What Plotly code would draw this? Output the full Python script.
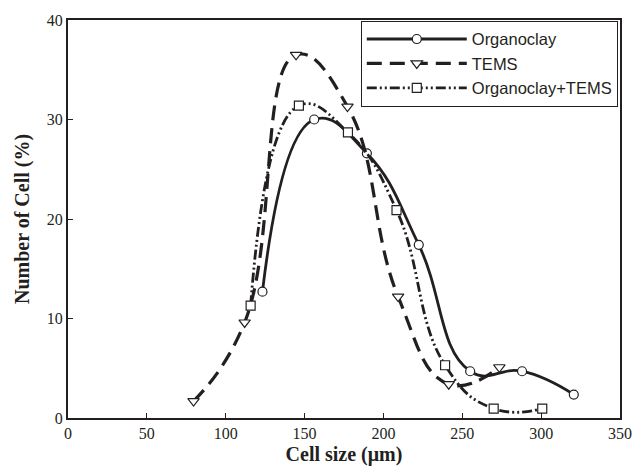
import plotly.graph_objects as go

# Data
org_x = [123.3, 156.1, 189.5, 222.4, 255.0, 287.9, 320.7]
org_y = [12.7, 30.0, 26.6, 17.4, 4.7, 4.7, 2.35]

tems_x = [79.6, 112.0, 144.6, 177.2, 209.3, 241.4, 273.5]
tems_y = [1.7, 9.6, 36.5, 31.3, 12.2, 3.4, 5.1]

ot_x = [115.8, 146.4, 177.5, 208.3, 239.1, 269.9, 300.7]
ot_y = [11.3, 31.4, 28.7, 20.9, 5.3, 0.95, 0.95]

names = ["Organoclay", "TEMS", "Organoclay+TEMS"]
x_ticks = [0, 50, 100, 150, 200, 250, 300, 350]
y_ticks = [0, 10, 20, 30, 40]

INK = "#231f20"
serif = "Liberation Serif, Times New Roman, serif"
sans = "Liberation Sans, Arial, sans-serif"

fig = go.Figure()

fig.add_trace(go.Scatter(
    x=org_x, y=org_y, name=names[0], mode="lines+markers",
    line=dict(color=INK, width=2.8, shape="spline", smoothing=1.3),
    marker=dict(symbol="circle", size=9, color="white", line=dict(color=INK, width=1.2)),
))
fig.add_trace(go.Scatter(
    x=tems_x, y=tems_y, name=names[1], mode="lines+markers",
    line=dict(color=INK, width=3.2, shape="spline", smoothing=1.3, dash="15px,8px"),
    marker=dict(symbol="triangle-down", size=10, color="white", line=dict(color=INK, width=1.2)),
))
fig.add_trace(go.Scatter(
    x=ot_x, y=ot_y, name=names[2], mode="lines+markers",
    line=dict(color=INK, width=2.8, shape="spline", smoothing=1.3,
              dash="10px,3px,2px,3px,2px,3px"),
    marker=dict(symbol="square", size=9, color="white", line=dict(color=INK, width=1.2)),
))

axis_common = dict(
    showgrid=False, zeroline=False, automargin=False,
    showline=True, linecolor=INK, linewidth=2, mirror=True,
    ticks="inside", ticklen=5, tickwidth=1, tickcolor=INK,
    tickfont=dict(family=serif, size=16, color=INK),
)

fig.update_xaxes(
    range=[0, 350], tickvals=x_ticks,
    title=dict(text="<b>Cell size (μm)</b>", font=dict(family=serif, size=20, color=INK), standoff=6),
    **axis_common,
)
fig.update_yaxes(
    range=[0, 40], tickvals=y_ticks,
    title=dict(text="<b>Number of Cell (%)</b>", font=dict(family=serif, size=20, color=INK), standoff=12),
    **axis_common,
)

fig.update_layout(
    width=634, height=472,
    margin=dict(l=68, r=14, t=20, b=54),
    paper_bgcolor="white", plot_bgcolor="white",
    showlegend=True,
    legend=dict(
        x=0.996, y=0.998, xanchor="right", yanchor="top",
        bordercolor=INK, borderwidth=1, bgcolor="white",
        font=dict(family=sans, size=16.5, color=INK),
        itemwidth=100, tracegroupgap=0,
    ),
)

fig.write_html("out.html", config={"displayModeBar": False},
               post_script="document.body.style.margin='0';")
